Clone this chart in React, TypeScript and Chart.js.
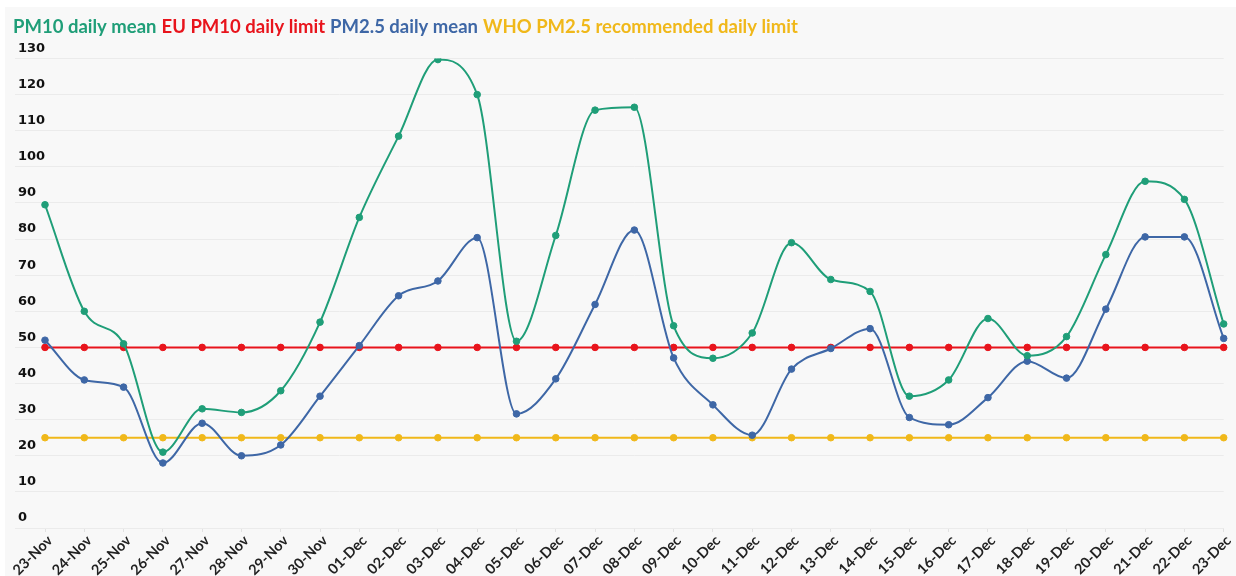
import React, { useEffect, useRef } from 'react';
import { Chart, registerables } from 'chart.js';

Chart.register(...registerables);

const categories = [
  '23-Nov', '24-Nov', '25-Nov', '26-Nov', '27-Nov', '28-Nov', '29-Nov', '30-Nov',
  '01-Dec', '02-Dec', '03-Dec', '04-Dec', '05-Dec', '06-Dec', '07-Dec', '08-Dec',
  '09-Dec', '10-Dec', '11-Dec', '12-Dec', '13-Dec', '14-Dec', '15-Dec', '16-Dec',
  '17-Dec', '18-Dec', '19-Dec', '20-Dec', '21-Dec', '22-Dec', '23-Dec',
];

const pm10DailyMean = [
  89.5, 60, 51, 21, 33, 32, 38, 57,
  86, 108.5, 129.7, 120, 51.7, 81, 115.7, 116.5,
  56, 47, 54, 79, 68.8, 65.5, 36.5, 41,
  58, 47.7, 53, 75.7, 96, 91, 56.5,
];

const euPm10DailyLimit = [
  50, 50, 50, 50, 50, 50, 50, 50,
  50, 50, 50, 50, 50, 50, 50, 50,
  50, 50, 50, 50, 50, 50, 50, 50,
  50, 50, 50, 50, 50, 50, 50,
];

const pm25DailyMean = [
  52, 41, 39, 18, 29, 20, 23, 36.5,
  50.5, 64.3, 68.4, 80.4, 31.6, 41.3, 61.9, 82.5,
  47.1, 34.1, 25.7, 44, 49.7, 55.2, 30.6, 28.6,
  36.1, 46.2, 41.5, 60.6, 80.6, 80.6, 52.5,
];

const whoPm25DailyLimit = [
  25, 25, 25, 25, 25, 25, 25, 25,
  25, 25, 25, 25, 25, 25, 25, 25,
  25, 25, 25, 25, 25, 25, 25, 25,
  25, 25, 25, 25, 25, 25, 25,
];

const yTickMin = 0;
const yTickMax = 130;
const yTickStep = 10;

const GREEN = '#1f9e78';
const RED = '#e8141c';
const BLUE = '#3e67a6';
const YELLOW = '#f0b81a';

const LEGEND_SIZE = 18.5;

function lineDs(label: string, data: number[], color: string, order: number) {
  return {
    label,
    data,
    borderColor: color,
    backgroundColor: color,
    pointBackgroundColor: color,
    pointBorderColor: color,
    pointRadius: 3.3,
    pointBorderWidth: 1,
    borderWidth: 2,
    cubicInterpolationMode: 'monotone',
    fill: false,
    order,
  };
}

export default function App() {
  const ref = useRef<HTMLCanvasElement | null>(null);

  useEffect(() => {
    if (!ref.current) return;
    const chart = new Chart(ref.current, {
      type: 'line',
      data: {
        labels: categories,
        datasets: [
          lineDs('PM10 daily mean', pm10DailyMean, GREEN, 0),
          lineDs('EU PM10 daily limit', euPm10DailyLimit, RED, 2),
          lineDs('PM2.5 daily mean', pm25DailyMean, BLUE, 1),
          lineDs('WHO PM2.5 recommended daily limit', whoPm25DailyLimit, YELLOW, 3),
        ] as any,
      },
      options: {
        animation: false,
        responsive: true,
        maintainAspectRatio: false,
        layout: { padding: { left: 3, right: 11, top: 1, bottom: 0 } },
        plugins: {
          tooltip: { enabled: false },
          legend: {
            position: 'top',
            align: 'start',
            labels: {
              boxWidth: -5 - LEGEND_SIZE / 2,
              padding: 10,
              font: { family: 'Lato', size: LEGEND_SIZE, weight: 'bold' },
              generateLabels: (c: any) =>
                c.data.datasets.map((ds: any, i: number) => ({
                  text: ds.label,
                  fontColor: ds.borderColor,
                  fillStyle: 'rgba(0,0,0,0)',
                  strokeStyle: 'rgba(0,0,0,0)',
                  lineWidth: 0,
                  hidden: false,
                  datasetIndex: i,
                })),
            },
          },
        },
        scales: {
          x: {
            grid: { display: true, drawOnChartArea: false, tickLength: 4, tickColor: '#e2e2e2', color: '#e2e2e2' },
            border: { display: false },
            ticks: {
              autoSkip: false,
              minRotation: 45,
              maxRotation: 45,
              padding: 0,
              labelOffset: 5,
              color: '#222',
              font: { family: 'Lato', size: 14.5, weight: 'bold' },
            },
            afterFit: (s: any) => { s.height = 48; },
          },
          xTopSpacer: {
            type: 'category',
            position: 'top',
            display: true,
            grid: { display: false },
            border: { display: false },
            ticks: { display: false },
            afterFit: (s: any) => { s.height = 12; },
          },
          y: {
            min: yTickMin,
            max: yTickMax,
            weight: 0,
            border: { display: false },
            grid: { color: '#ebebeb', tickColor: '#ebebeb', tickLength: 30, lineWidth: 1 },
            ticks: {
              stepSize: yTickStep,
              crossAlign: 'far',
              labelOffset: -10,
              color: '#111',
              font: { family: 'DejaVu Sans', size: 13, weight: 'bold' },
            },
            afterFit: (s: any) => { s.width = 27; },
          },
          yLeftSpacer: {
            type: 'linear',
            position: 'left',
            weight: 5,
            display: true,
            grid: { display: false },
            border: { display: false },
            ticks: { display: false },
            afterFit: (s: any) => { s.width = 10; },
          },
        },
      } as any,
    });
    return () => chart.destroy();
  }, []);

  return (
    <div style={{ position: 'absolute', left: 5, top: 7, width: 1231, height: 569, background: '#f8f8f8' }}>
      <canvas ref={ref} />
    </div>
  );
}
